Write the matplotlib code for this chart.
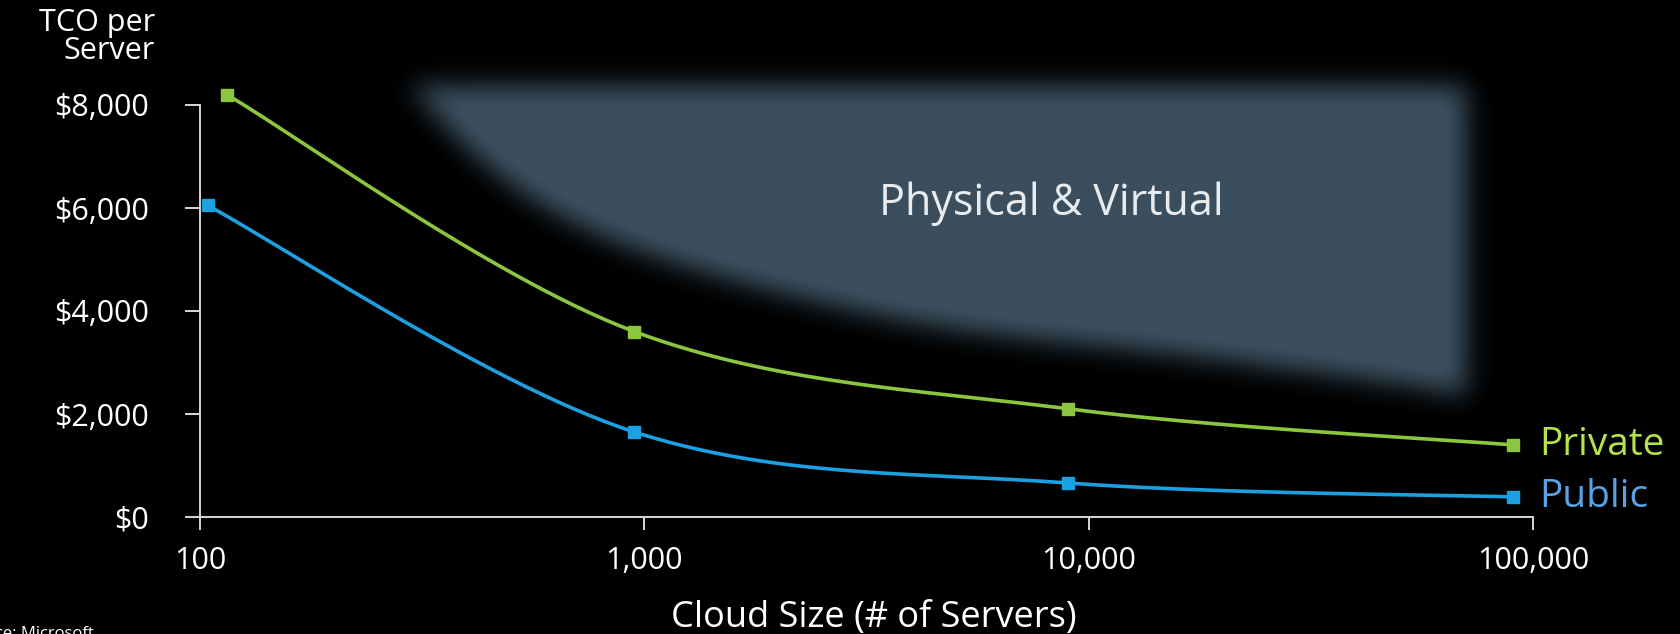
import numpy as np
import matplotlib.pyplot as plt
from matplotlib.path import Path
from matplotlib.ticker import FixedLocator, NullLocator

plt.rcParams['font.family'] = ['Open Sans', 'DejaVu Sans']

# TCO per server vs. cloud size
private_x = [115, 950, 9000, 90000]
private_y = [8200, 3600, 2100, 1400]
public_x = [104, 950, 9000, 90000]
public_y = [6050, 1650, 660, 390]

x_ticks = [100, 1000, 10000, 100000]
x_labels = ['100', '1,000', '10,000', '100,000']
y_ticks = [0, 2000, 4000, 6000, 8000]
y_labels = ['\\$0', '\\$2,000', '\\$4,000', '\\$6,000', '\\$8,000']

# "Physical & Virtual" band: top edge, right edge, lower curve
band_top = 8370
band_right = 70500
band_low_x = [300, 431, 635, 1052, 2290, 5270, 15960, 48600, 70500]
band_low_y = [8300, 6920, 5900, 5070, 4240, 3620, 3150, 2600, 2350]

W, H = 1681, 634
green = '#8cc63f'
blue = '#1ba1e2'


def smooth(xs, ys, n=60):
    # bezier smoothing through the points (log x, linear y)
    pts = np.column_stack([np.log10(xs), np.asarray(ys, float)])
    P = np.vstack([pts[0], pts, pts[-1]])
    t = np.linspace(0, 1, n)[:, None]
    segs = []
    for i in range(1, len(P) - 2):
        p0, p1, p2, p3 = P[i - 1], P[i], P[i + 1], P[i + 2]
        c1 = p1 + (p2 - p0) / 6
        c2 = p2 - (p3 - p1) / 6
        segs.append((1 - t)**3 * p1 + 3 * (1 - t)**2 * t * c1
                    + 3 * (1 - t) * t**2 * c2 + t**3 * p2)
    c = np.vstack(segs)
    return 10**c[:, 0], c[:, 1]


def blur(img, sigma):
    r = int(3 * sigma)
    k = np.exp(-0.5 * (np.arange(-r, r + 1) / sigma)**2)
    k /= k.sum()
    for axis in (0, 1):
        pad = [(0, 0), (0, 0)]
        pad[axis] = (r, r)
        p = np.pad(img, pad, mode='constant')
        out = np.zeros_like(img)
        n = img.shape[axis]
        for j, w in enumerate(k):
            out += w * (p[j:j + n, :] if axis == 0 else p[:, j:j + n])
        img = out
    return img


fig = plt.figure(figsize=(W / 100, H / 100), dpi=100, facecolor='black')

ax = fig.add_axes([200 / W, 117 / H, 1333 / W, 412 / H], zorder=2)
ax.set_facecolor('none')
ax.set_xscale('log')
ax.set_xlim(100, 100000)
ax.set_ylim(0, 8000)

# soft band behind the curves
lx, ly = smooth(band_low_x, band_low_y)
verts = np.vstack([[[band_low_x[0], band_top], [band_right, band_top]],
                   np.column_stack([lx, ly])[::-1]])
disp = ax.transData.transform(verts)
gx, gy = np.meshgrid(np.arange(W) + 0.5, np.arange(H) + 0.5)
mask = Path(disp).contains_points(np.column_stack([gx.ravel(), gy.ravel()]))
mask = blur(mask.reshape(H, W).astype(float), 13)
rgba = np.zeros((H, W, 4))
rgba[..., :3] = np.array([0x3a, 0x4e, 0x5d]) / 255
rgba[..., 3] = np.clip(mask * 1.08, 0, 1)

bg = fig.add_axes([0, 0, 1, 1], zorder=0)
bg.imshow(rgba, extent=(0, W, 0, H), origin='lower', aspect='auto', interpolation='bilinear')
bg.set_xlim(0, W)
bg.set_ylim(0, H)
bg.axis('off')

px, py = smooth(private_x, private_y)
ux, uy = smooth(public_x, public_y)
ax.plot(px, py, color=green, lw=2.6, clip_on=False, zorder=3)
ax.plot(ux, uy, color=blue, lw=2.6, clip_on=False, zorder=3)
ax.plot(private_x, private_y, 's', color=green, ms=9, clip_on=False, zorder=4)
ax.plot(public_x, public_y, 's', color=blue, ms=8, clip_on=False, zorder=4)

ax.text(1.005, private_y[-1], 'Private', transform=ax.get_yaxis_transform(),
        color='#b5e34e', fontsize=28, va='center', ha='left')
ax.text(1.005, public_y[-1], 'Public', transform=ax.get_yaxis_transform(),
        color='#5aa2e6', fontsize=28, va='center', ha='left')
ax.text(8230, 6080, 'Physical & Virtual', color='#e8ecef', fontsize=31,
        ha='center', va='center')

for side in ('top', 'right'):
    ax.spines[side].set_visible(False)
for side in ('left', 'bottom'):
    ax.spines[side].set_color('#d8d8d8')
    ax.spines[side].set_linewidth(1.4)

ax.xaxis.set_major_locator(FixedLocator(x_ticks))
ax.xaxis.set_minor_locator(NullLocator())
ax.set_xticklabels(x_labels)
ax.set_yticks(y_ticks)
ax.set_yticklabels(y_labels)
ax.tick_params(axis='x', colors='#d8d8d8', labelcolor='white', labelsize=22,
               length=9, width=1.4, pad=12)
ax.tick_params(axis='y', colors='#d8d8d8', labelcolor='white', labelsize=22,
               length=11, width=1.4, pad=26)

fig.text(155 / W, 1 - 37 / H, 'TCO per\nServer', color='white', fontsize=22,
         ha='right', va='center', linespacing=0.95)
fig.text(874 / W, 1 - 618 / H, 'Cloud Size (# of Servers)', color='white',
         fontsize=26, ha='center', va='center')
fig.text(94 / W, 1 - 626 / H, 'Source: Microsoft', color='white', fontsize=12,
         ha='right', va='top')

fig.savefig('out.png', dpi=100, facecolor='black')
